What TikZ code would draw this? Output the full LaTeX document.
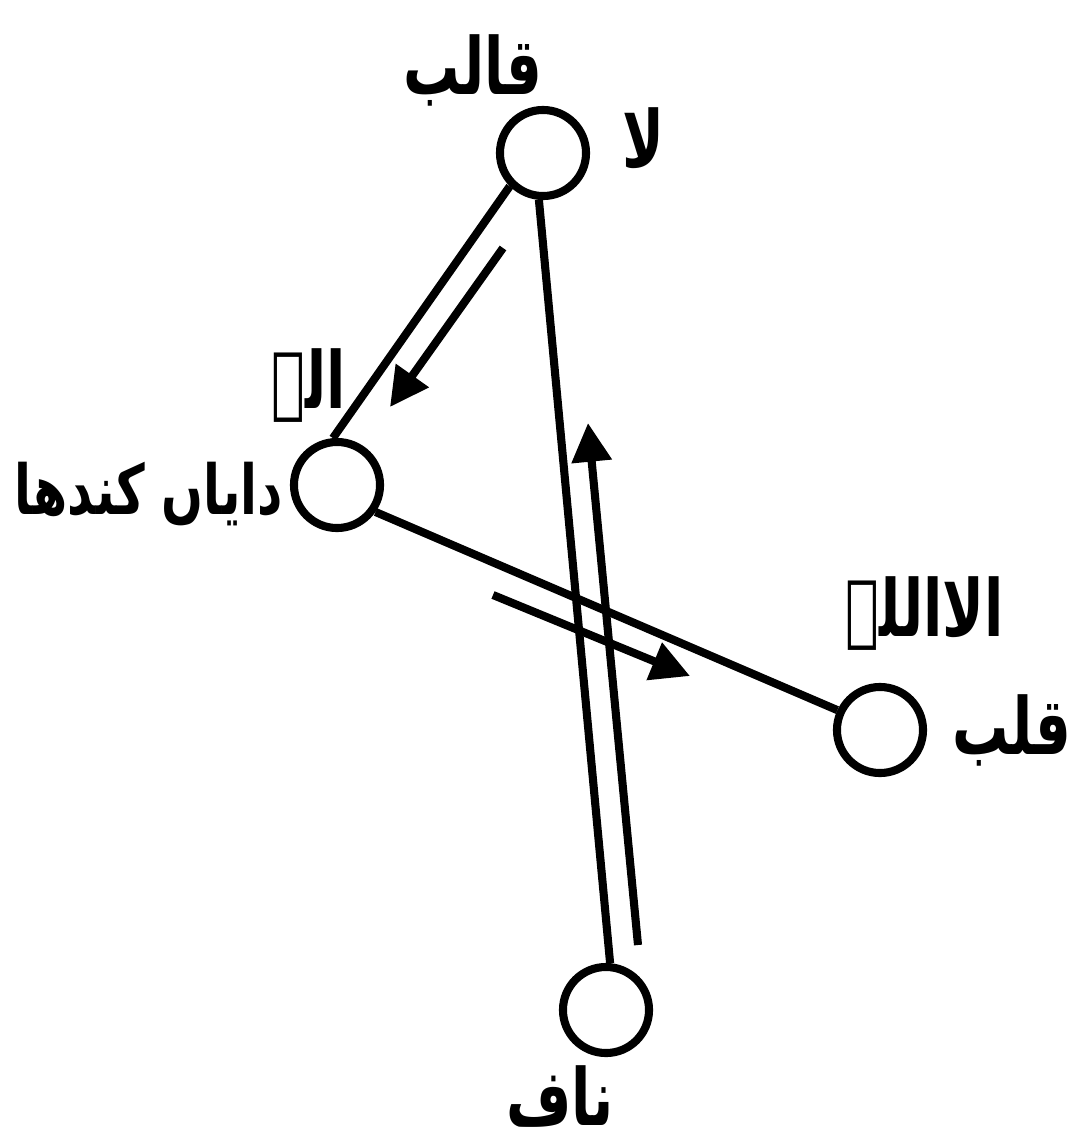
\documentclass[tikz,border=0pt]{standalone}
\usepackage{fontspec}
\usepackage{graphicx}
\usepackage{tikz}
\usetikzlibrary{arrows.meta}
\TeXXeTstate=1
\newfontfamily\urdufont[Script=Arabic]{DejaVu Sans}
\newcommand{\urtext}[1]{\scalebox{1}[1.4]{\beginR #1\endR}}

\begin{document}
\begin{tikzpicture}[x=0.01cm, y=-0.01cm, line width=2.3pt,
    point/.style={circle, draw, minimum size=0.86cm, inner sep=0pt},
    urdu/.style={font=\urdufont\bfseries\fontsize{16}{20}\selectfont, inner sep=0pt},
    flow/.style={-{Triangle[length=11pt, width=11pt]}}]
        \useasboundingbox (0,0) rectangle (1082,1142);

        % 四个点
        \node[point] (qalib) at (543,153) {};
        \node[point] (shoulder) at (337,485) {};
        \node[point] (heart) at (880,730) {};
        \node[point] (navel) at (606,1010) {};

        % 文字
        \node[urdu] (tqalib) at (473,70) {\urtext{قالب}};
        \node[urdu] (tla) at (643,138) {\urtext{لا}};
        \node[urdu] (tilah) at (309,386) {\urtext{الہ}};
        \node[urdu, font=\urdufont\bfseries\fontsize{14}{18}\selectfont] (tshoulder) at (149,494) {\urtext{دایاں کندھا}};
        \node[urdu] (tillallah) at (925,614) {\urtext{الااللہ}};
        \node[urdu] (theart) at (1012,730) {\urtext{قلب}};
        \node[urdu] (tnavel) at (560,1097) {\urtext{ناف}};

        % 连线
        \draw (qalib.225) -- (shoulder.95);
        \draw (qalib.265) -- (navel.85);
        \draw (shoulder.-35) -- (heart.155);

        % 箭头
        \coordinate (downS) at (503,248);
        \coordinate (downE) at (390,407);
        \coordinate (upS) at (638,945);
        \coordinate (upE) at (588,423);
        \coordinate (crossS) at (493,595);
        \coordinate (crossE) at (690,676);
        \draw[flow] (downS) -- (downE);
        \draw[flow] (upS) -- (upE);
        \draw[flow] (crossS) -- (crossE);
    \end{tikzpicture}
\end{document}
